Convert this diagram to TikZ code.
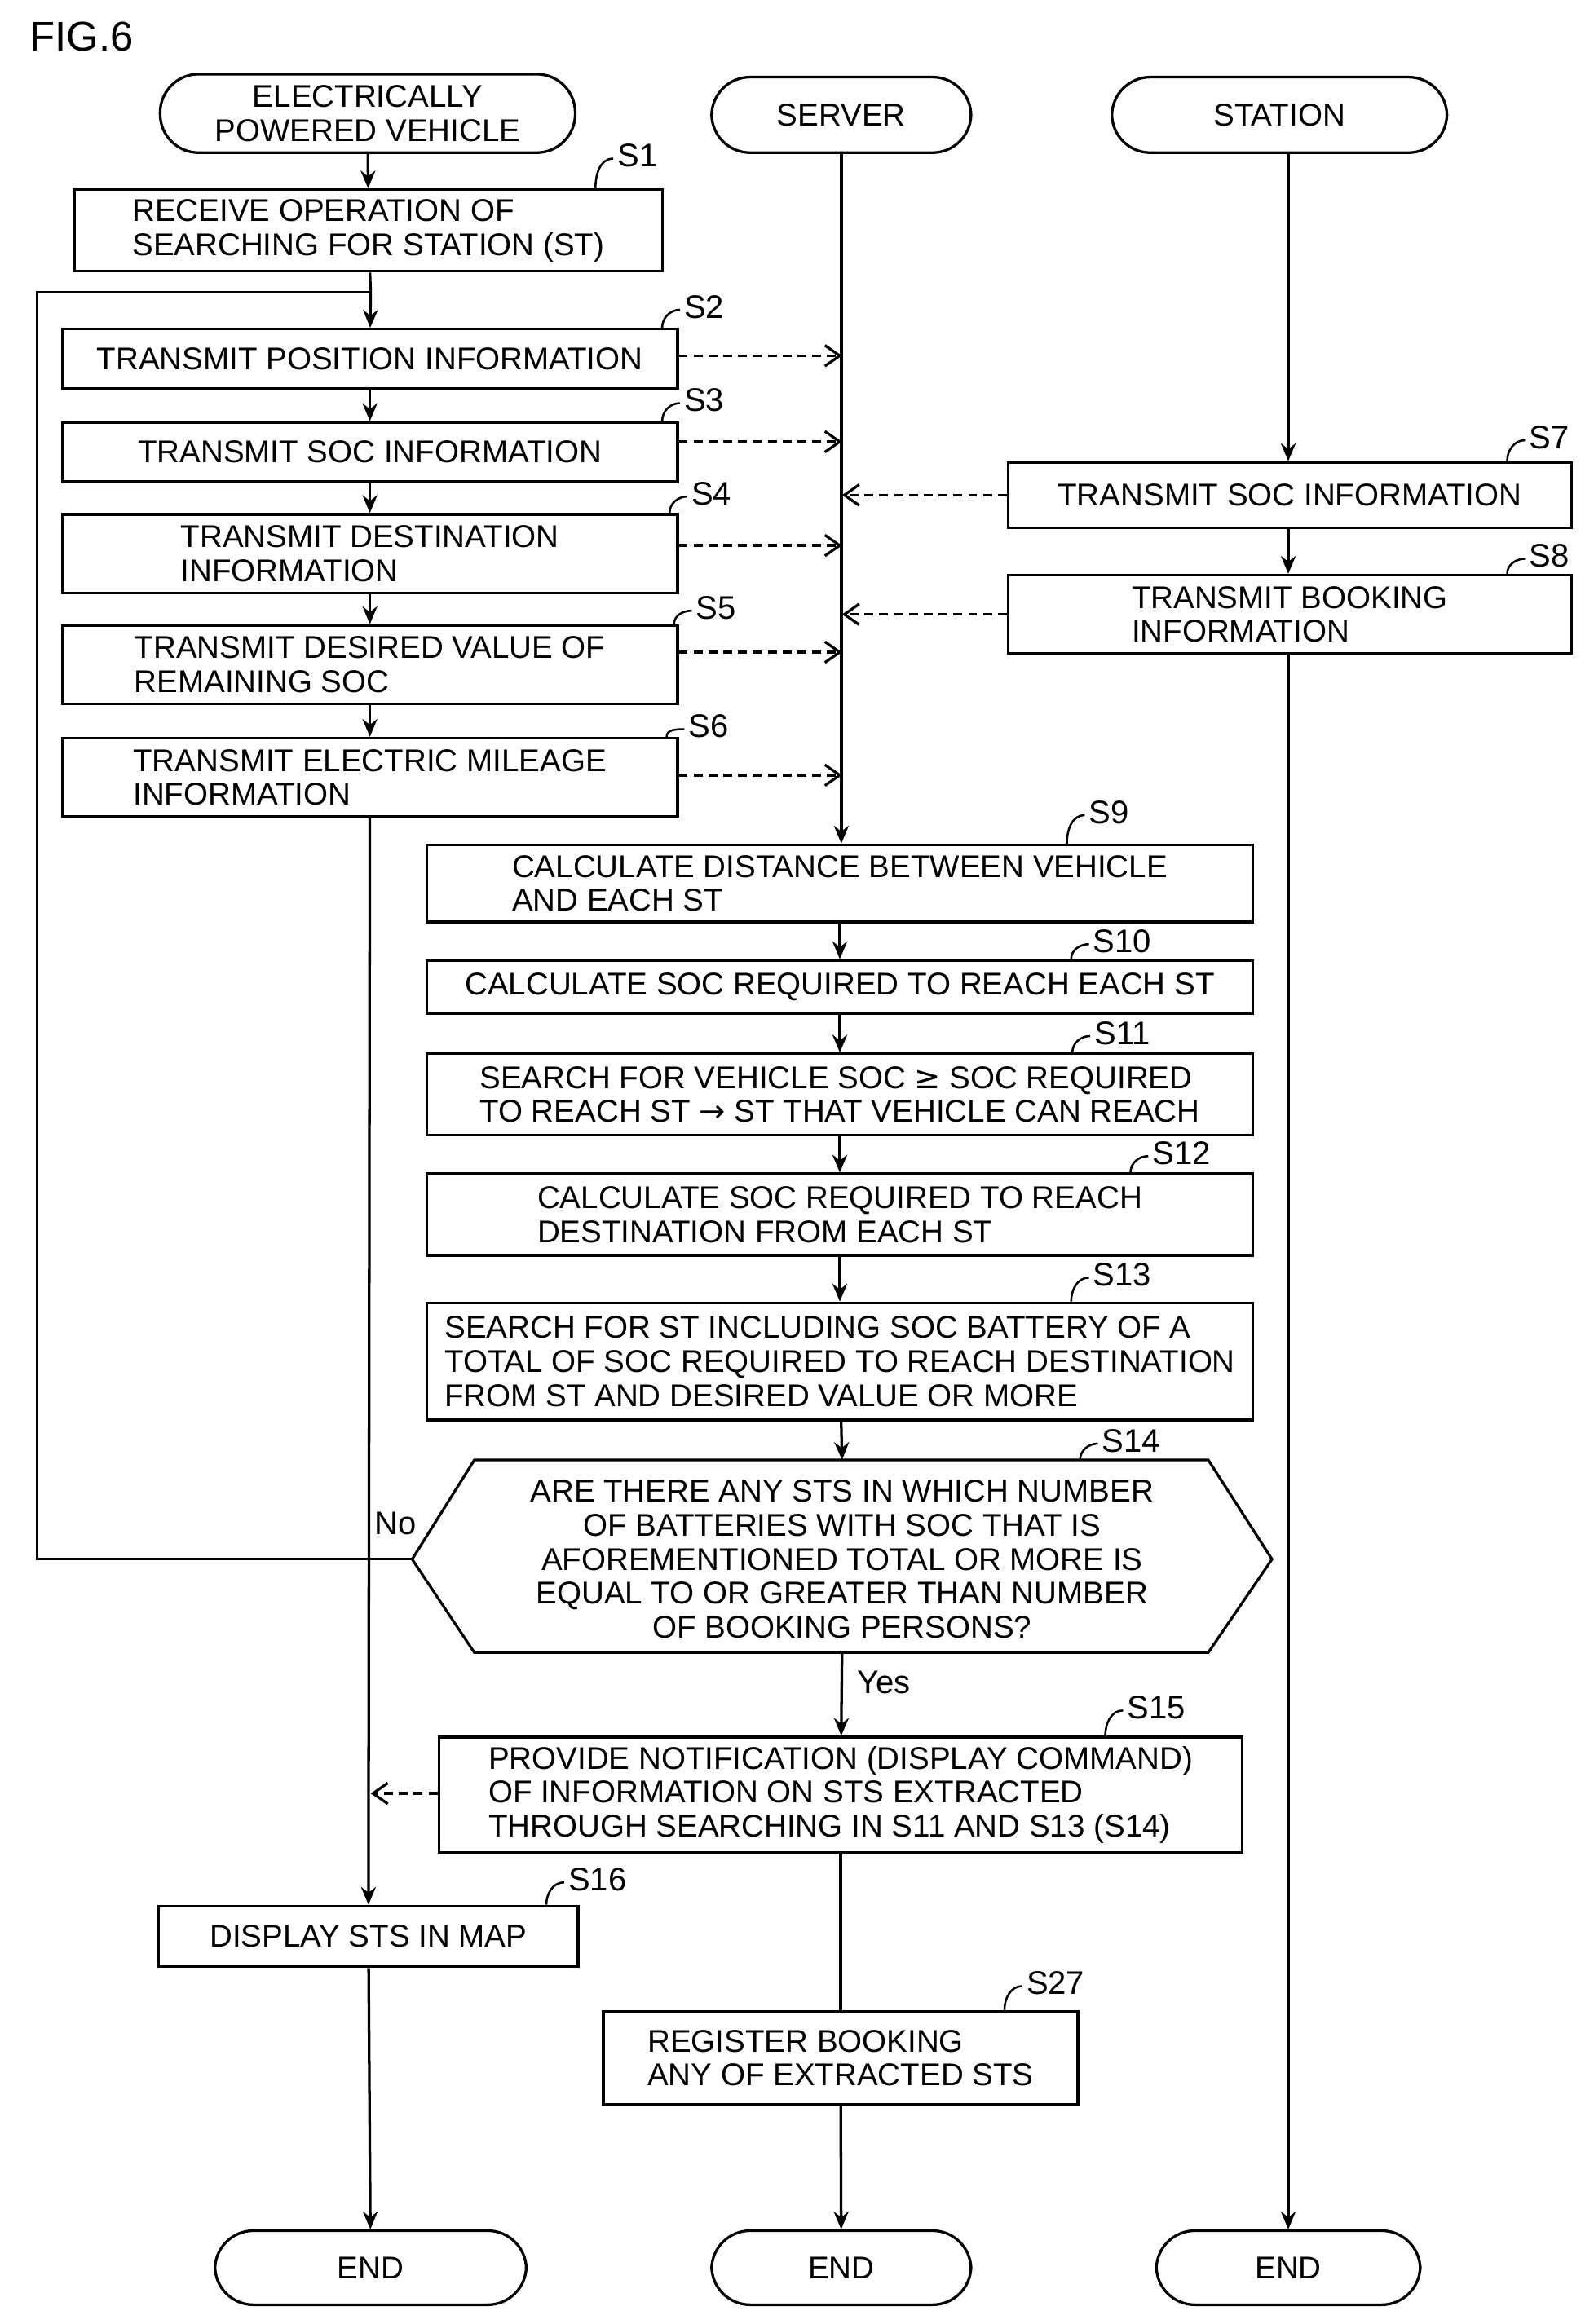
\documentclass[tikz,border=0pt]{standalone}
\usepackage{fontspec}
\setmainfont{Liberation Sans}
\newfontfamily\dvsym{DejaVu Sans}
\usetikzlibrary{arrows.meta}
\begin{document}
\begin{tikzpicture}[x=0.5pt,y=-0.5pt,line width=0.9pt,
  every node/.style={font=\fontsize{10.6}{11.5}\selectfont,inner sep=1pt},
  box/.style={draw,align=left},
  term/.style={draw,rounded corners=13pt,align=center},
  lab/.style={font=\fontsize{11}{11}\selectfont},
  arr/.style={-{Stealth[length=6pt,width=5pt]}},
  darr/.style={dashed,dash pattern=on 3pt off 2pt,-{Straight Barb[length=5pt,width=7pt]}}]
\useasboundingbox (0,0) rectangle (1075,1568);
\node[font=\fontsize{14}{14}\selectfont] (fig) at (55,25) {FIG.6};
% terminals
\node[term,minimum width=140pt,minimum height=26.5pt] (v0) at (248,76.5) {ELECTRICALLY\\POWERED VEHICLE};
\node[term,minimum width=87.5pt,minimum height=25.5pt] (sv0) at (567.5,77.5) {SERVER};
\node[term,minimum width=113pt,minimum height=25.5pt] (st0) at (863,77.5) {STATION};
\node[term,minimum width=105pt,minimum height=25pt] (v9) at (250,1530) {END};
\node[term,minimum width=87.5pt,minimum height=25pt] (sv9) at (567.5,1530) {END};
\node[term,minimum width=89pt,minimum height=25pt] (st9) at (869,1530) {END};
% vehicle boxes
\node[box,minimum width=198.5pt,minimum height=27.5pt] (s1) at (248.5,155.5) {RECEIVE OPERATION OF\\SEARCHING FOR STATION (ST)};
\node[box,minimum width=207.5pt,minimum height=20pt] (s2) at (249.5,242) {TRANSMIT POSITION INFORMATION};
\node[box,minimum width=207.5pt,minimum height=20pt] (s3) at (249.5,305) {TRANSMIT SOC INFORMATION};
\node[box,minimum width=207.5pt,minimum height=26.5pt] (s4) at (249.5,373.5) {TRANSMIT DESTINATION\\INFORMATION};
\node[box,minimum width=207.5pt,minimum height=26.5pt] (s5) at (249.5,448.5) {TRANSMIT DESIRED VALUE OF\\REMAINING SOC};
\node[box,minimum width=207.5pt,minimum height=26.5pt] (s6) at (249.5,524.5) {TRANSMIT ELECTRIC MILEAGE\\INFORMATION};
\node[box,minimum width=141.5pt,minimum height=20.5pt] (s16) at (248.5,1306.5) {DISPLAY STS IN MAP};
% station boxes
\node[box,minimum width=190pt,minimum height=22pt] (s7) at (870,334) {TRANSMIT SOC INFORMATION};
\node[box,minimum width=190pt,minimum height=26.5pt] (s8) at (870,414.5) {TRANSMIT BOOKING\\INFORMATION};
% server boxes
\node[box,minimum width=278.5pt,minimum height=26pt] (s9) at (566.5,596) {CALCULATE DISTANCE BETWEEN VEHICLE\\AND EACH ST};
\node[box,minimum width=278.5pt,minimum height=18pt] (s10) at (566.5,666) {CALCULATE SOC REQUIRED TO REACH EACH ST};
\node[box,minimum width=278.5pt,minimum height=27.5pt] (s11) at (566.5,738.5) {SEARCH FOR VEHICLE SOC {\dvsym ≥} SOC REQUIRED\\TO REACH ST {\dvsym →} ST THAT VEHICLE CAN REACH};
\node[box,minimum width=278.5pt,minimum height=27.5pt] (s12) at (566.5,819.5) {CALCULATE SOC REQUIRED TO REACH\\DESTINATION FROM EACH ST};
\node[box,minimum width=278.5pt,minimum height=39.5pt] (s13) at (566.5,918.5) {SEARCH FOR ST INCLUDING SOC BATTERY OF A\\TOTAL OF SOC REQUIRED TO REACH DESTINATION\\FROM ST AND DESIRED VALUE OR MORE};
\draw (278,1052) -- (320,985) -- (815,985) -- (858,1052) -- (815,1115) -- (320,1115) -- cycle;
\node[align=center] (s14) at (568,1052) {ARE THERE ANY STS IN WHICH NUMBER\\OF BATTERIES WITH SOC THAT IS\\AFOREMENTIONED TOTAL OR MORE IS\\EQUAL TO OR GREATER THAN NUMBER\\OF BOOKING PERSONS?};
\coordinate (hT) at (568,985); \coordinate (hB) at (568,1115); \coordinate (hL) at (278,1052);
\node[box,minimum width=271pt,minimum height=39pt] (s15) at (567,1211) {PROVIDE NOTIFICATION (DISPLAY COMMAND)\\OF INFORMATION ON STS EXTRACTED\\THROUGH SEARCHING IN S11 AND S13 (S14)};
\node[box,minimum width=160pt,minimum height=31.5pt] (s27) at (567,1388.5) {REGISTER BOOKING\\ANY OF EXTRACTED STS};
% step labels
\foreach \n/\t/\x/\y in {s1/S1/430/105,s2/S2/475/207,s3/S3/475/270,s4/S4/480/333,s5/S5/483/410,s6/S6/478/490,s7/S7/1045/295,s8/S8/1045/375,s9/S9/748/548,s10/S10/757/635,s11/S11/757/697,s12/S12/797/778,s13/S13/757/860,s15/S15/780/1152,s16/S16/403/1268,s27/S27/712/1338}{
  \node[lab] (l\n) at (\x,\y) {\t};
  \draw[line width=0.7pt] ([yshift=-1pt]l\n.west) to[out=180,in=90] ([xshift=-6pt]l\n.west |- \n.north);
}
\node[lab] (ls14) at (763,972) {S14};
\draw[line width=0.7pt] ([yshift=-1pt]ls14.west) to[out=180,in=90] ([xshift=-6pt]ls14.west |- hT);
% vehicle flow
\coordinate (j) at (250,197); \coordinate (lp) at (25,197);
\draw[arr] (v0) -- (s1);
\draw (s1) -- (j);
\draw[arr] (j) -- (s2);
\draw[arr] (s2) -- (s3);
\draw[arr] (s3) -- (s4);
\draw[arr] (s4) -- (s5);
\draw[arr] (s5) -- (s6);
\draw[arr] (s6) -- (s16);
\draw[arr] (s16) -- (v9);
\draw (hL) -| (lp) -- (j);
\node[lab] (no) at (267,1028) {No};
% station flow
\draw[arr] (st0.south -| st9) -- (s7.north -| st9);
\draw[arr] (s7.south -| st9) -- (s8.north -| st9);
\draw[arr] (s8.south -| st9) -- (st9);
% server flow
\draw[arr] (sv0) -- (sv0 |- s9.north);
\draw[arr] (s9) -- (s10);
\draw[arr] (s10) -- (s11);
\draw[arr] (s11) -- (s12);
\draw[arr] (s12) -- (s13);
\draw[arr] (s13) -- (hT);
\draw[arr] (hB) -- (s15);
\node[lab] (yes) at (596,1135) {Yes};
\draw (s15) -- (s27);
\draw[arr] (s27) -- (sv9);
% dashed
\foreach \n/\y in {s2/240,s3/298,s4/368,s5/440,s6/523}{
  \coordinate (d\n) at (568,\y);
  \draw[darr] (\n.east |- d\n) -- (d\n);
}
\foreach \n in {s7,s8}{ \coordinate (d\n) at (568,0); \draw[darr] (\n.west) -- (\n.west -| d\n); }
\coordinate (d15) at (250,1210);
\draw[darr] (s15.west |- d15) -- (d15);
\end{tikzpicture}
\end{document}
